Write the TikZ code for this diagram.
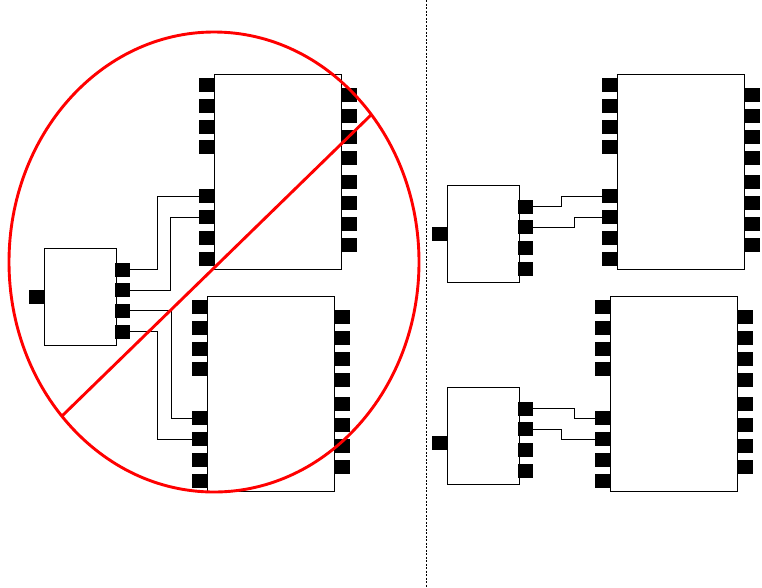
\documentclass[tikz,border=0pt]{standalone}
\usetikzlibrary{calc}
\tikzset{
  blk/.style={draw, fill=white, line width=0.8pt, inner sep=0pt, anchor=north west},
  pin/.style={fill=black, draw=none, inner sep=0pt, minimum width=15pt, minimum height=14pt},
  wire/.style={draw, line width=0.8pt},
  veto/.style={draw=red, line width=2.9pt},
  divider/.style={draw, line width=0.8pt, dash pattern=on 2pt off 1.5pt},
}
% large block: name, x, y of the top-left corner
\newcommand\largechip[3]{%
  \node[blk, minimum width=127pt, minimum height=195pt] (#1) at (#2,#3) {};
  \foreach \k/\dy in {1/10.5,2/31.5,3/52.5,4/73,5/122,6/143,7/164,8/185}
    \node[pin, anchor=east] (#1-l\k) at ({#2+0.5},{#3+\dy}) {};
  \foreach \k/\dy in {1/21,2/42,3/63,4/84,5/108,6/129,7/150,8/170.5}
    \node[pin, anchor=west] (#1-r\k) at ({#2+127.5},{#3+\dy}) {};
}
% small block: name, x, y of the top-left corner, offset of the input pin
\newcommand\smallchip[4]{%
  \node[blk, minimum width=72pt, minimum height=97pt] (#1) at (#2,#3) {};
  \node[pin, anchor=east] (#1-l1) at ({#2+0.5},{#3+#4}) {};
  \foreach \k/\dy in {1/21.5,2/42,3/62.5,4/83.5}
    \node[pin, anchor=west] (#1-r\k) at ({#2+71},{#3+\dy}) {};
}
\begin{document}
\begin{tikzpicture}[x=1pt,y=-1pt]
  \useasboundingbox (0,0) rectangle (762,587);

  % separator between the two arrangements
  \coordinate (divtop) at (426,0);
  \coordinate (divbot) at (426,587);
  \draw[divider] (divtop) -- (divbot);

  % left arrangement
  \largechip{ua}{214}{74}
  \largechip{la}{207}{296}
  \smallchip{sa}{44}{248}{48.5}

  \coordinate (ja) at (157,0);
  \coordinate (jb) at (170,0);
  \coordinate (jc) at (171.5,0);
  \draw[wire] (sa-r1.east) -- (sa-r1.east -| ja) |- (ua-l5.west);
  \draw[wire] (sa-r2.east) -- (sa-r2.east -| jb) |- (ua-l6.west);
  \draw[wire] (sa-r3.east) -- (sa-r3.east -| jc) |- (la-l5.west);
  \draw[wire] (sa-r4.east) -- (sa-r4.east -| ja) |- (la-l6.west);

  % right arrangement
  \largechip{ub}{617}{74}
  \largechip{lb}{610}{296}
  \smallchip{sb}{447}{185}{49}
  \smallchip{sc}{447}{387}{56}

  \coordinate (jd) at (561,0);
  \coordinate (je) at (574,0);
  \draw[wire] (sb-r1.east) -- (sb-r1.east -| jd) |- (ub-l5.west);
  \draw[wire] (sb-r2.east) -- (sb-r2.east -| je) |- (ub-l6.west);
  \draw[wire] (sc-r1.east) -- (sc-r1.east -| je) |- (lb-l5.west);
  \draw[wire] (sc-r2.east) -- (sc-r2.east -| jd) |- (lb-l6.west);

  % crossed-out mark over the left arrangement
  \coordinate (vetoC) at (214,262);
  \coordinate (slashA) at (62,416);
  \coordinate (slashB) at (372,114);
  \draw[veto] (vetoC) ellipse [x radius=205pt, y radius=230pt];
  \draw[veto] (slashA) -- (slashB);
\end{tikzpicture}
\end{document}
